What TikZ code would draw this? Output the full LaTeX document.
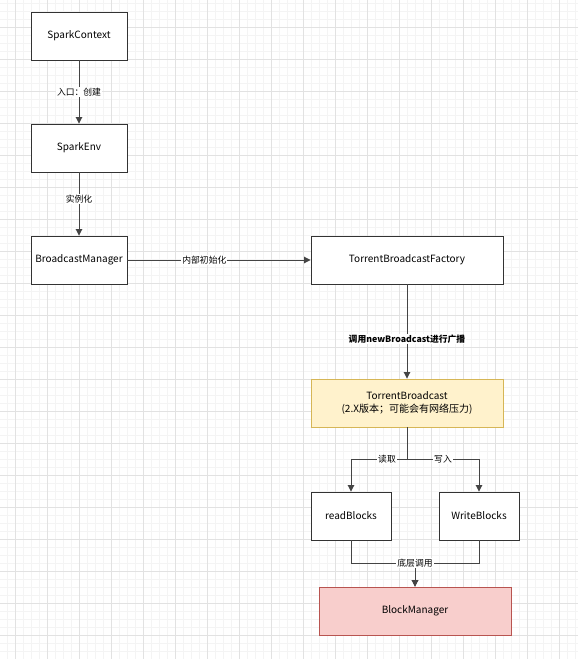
\documentclass[tikz,border=0pt]{standalone}
\usepackage{fontspec}
\setmainfont{Noto Sans CJK SC}
\usetikzlibrary{arrows.meta}
\definecolor{gridminor}{HTML}{F4F4F4}
\definecolor{gridmajor}{HTML}{E2E2E2}
\definecolor{boxline}{HTML}{333333}
\definecolor{edgeline}{HTML}{444444}
\definecolor{yfill}{HTML}{FFF2CC}
\definecolor{yline}{HTML}{D6B656}
\definecolor{rfill}{HTML}{F8CECC}
\definecolor{rline}{HTML}{B85450}
\tikzset{
  box/.style={draw=boxline, line width=0.9pt, fill=white, minimum width=#1, minimum height=48pt, inner sep=0pt, align=center, font=\fontsize{10}{12.5}\selectfont},
  box/.default=96pt,
  conn/.style={draw=edgeline, line width=0.9pt, -{Triangle[length=6.5pt,width=6.5pt]}},
  elabel/.style={fill=white, inner sep=1pt, font=\fontsize{8.8}{10}\selectfont}
}
\begin{document}
\begin{tikzpicture}[x=1pt,y=-1pt]
\useasboundingbox (0,0) rectangle (578,659);
\fill[white] (0,0) rectangle (578,659);
% grid
\foreach \gx in {7,15,...,575} \draw[gridminor, line width=0.6pt] (\gx,0) -- (\gx,659);
\foreach \gy in {3,11,...,659} \draw[gridminor, line width=0.6pt] (0,\gy) -- (578,\gy);
\foreach \gx in {15,47,...,575} \draw[gridmajor, line width=0.7pt] (\gx,0) -- (\gx,659);
\foreach \gy in {27,59,...,659} \draw[gridmajor, line width=0.7pt] (0,\gy) -- (578,\gy);

% nodes
\node[box] (sc) at (79,36) {SparkContext};
\node[box] (se) at (79,148) {SparkEnv};
\node[box] (bm) at (79,260) {BroadcastManager};
\node[box=192pt] (tbf) at (407,260) {TorrentBroadcastFactory};
\node[box=192pt, draw=yline, fill=yfill] (tb) at (407,403) {TorrentBroadcast\\(2.X版本；可能会有网络压力)};
\node[box=80pt] (rb) at (351,516) {readBlocks};
\node[box=80pt] (wb) at (479,516) {WriteBlocks};
\node[box=192pt, draw=rline, fill=rfill] (bmg) at (415,611) {BlockManager};

\coordinate (split) at (407,459);
\coordinate (merge) at (415,563);

% connectors
\draw[conn] (sc) -- (se) node[elabel, pos=0.5] {入口：创建};
\draw[conn] (se) -- (bm) node[elabel, pos=0.42] {实例化};
\draw[conn] (bm) -- (tbf) node[elabel, pos=0.42] {内部初始化};
\draw[conn] (tbf) -- (tb) node[elabel, pos=0.58, font=\fontsize{8.8}{10}\selectfont\bfseries] {调用newBroadcast进行广播};
\draw[conn] (tb.south) -- (split) -| (rb.north);
\draw[conn] (tb.south) -- (split) -| (wb.north);
\draw[conn] (rb.south) |- (merge) -- (bmg.north);
\draw[conn] (wb.south) |- (merge) -- (bmg.north);
\node[elabel] (lr) at (387,459) {读取};
\node[elabel] (lw) at (443,459) {写入};
\node[elabel] (lb) at (415,563) {底层调用};
\end{tikzpicture}
\end{document}
